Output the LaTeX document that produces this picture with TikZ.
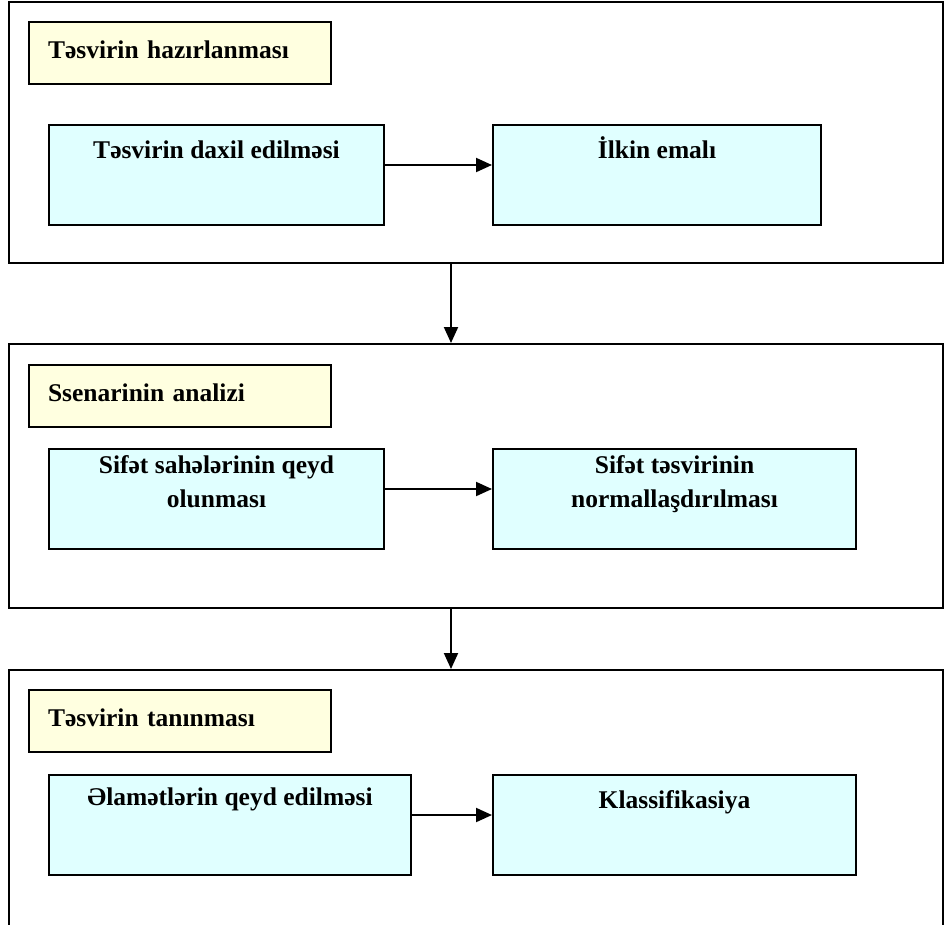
\documentclass[tikz,border=0pt]{standalone}
\usepackage{fontspec}
\setmainfont{Liberation Serif}
\usetikzlibrary{positioning,arrows.meta}
\definecolor{headyellow}{HTML}{FFFFE0}
\definecolor{stagecyan}{HTML}{E0FFFF}

\begin{document}
\begin{tikzpicture}[x=1pt, y=-1pt, line width=2pt, font=\fontsize{25.5}{34}\selectfont\bfseries,
  frame/.style = {draw, rectangle, minimum width=934pt, inner sep=0pt},
  head/.style = {draw, fill=headyellow, minimum width=302pt, minimum height=62pt, text width=264pt, inner xsep=19pt, align=left, text height=17pt, text depth=6pt},
  stage/.style = {draw, fill=stagecyan, minimum height=100pt, inner sep=0pt},
  stagetext/.style = {inner sep=0pt, align=center},
  arr/.style = {-{Triangle[length=16pt, width=14pt]}}]
\useasboundingbox (0,0) rectangle (944,924);
\clip (0,0) rectangle (944,924);
% three frames
\node[frame, minimum height=261pt, anchor=north west] (prep) at (8,1) {};
\node[frame, minimum height=264pt] (scene) [below=79pt of prep] {};
\node[frame, minimum height=300pt] (recog) [below=60pt of scene] {};
% frame titles
\node[head] (prep-h) [below right=20pt and 20pt of prep.north west] {Təsvirin hazırlanması};
\node[head] (scene-h) [below right=21pt and 20pt of scene.north west] {Ssenarinin analizi};
\node[head] (recog-h) [below right=20pt and 20pt of recog.north west] {Təsvirin tanınması};
% steps
\node[stage, minimum width=335pt] (input) [below right=39pt and 20pt of prep-h.south west] {};
\node[stage, minimum width=328pt] (pre) [right=107pt of input] {};
\node[stage, minimum width=335pt] (face) [below right=20pt and 20pt of scene-h.south west] {};
\node[stage, minimum width=363pt] (norm) [right=107pt of face] {};
\node[stage, minimum width=362pt] (feat) [below right=21pt and 20pt of recog-h.south west] {};
\node[stage, minimum width=363pt] (class) [right=80pt of feat] {};
% step texts
\node[stagetext, below=16pt of input.north] (input-t) {Təsvirin daxil edilməsi};
\node[stagetext, below=12pt of pre.north] (pre-t) {İlkin emalı};
\node[stagetext, below=7pt of face.north] (face-t) {Sifət sahələrinin qeyd\\olunması};
\node[stagetext, below=7pt of norm.north] (norm-t) {Sifət təsvirinin\\normallaşdırılması};
\node[stagetext, below=13pt of feat.north] (feat-t) {Əlamətlərin qeyd edilməsi};
\node[stagetext, below=16pt of class.north] (class-t) {Klassifikasiya};
% arrows
\draw[arr] ([yshift=10pt]input.east) -- ([yshift=10pt]pre.west);
\draw[arr] ([yshift=10pt]face.east) -- ([yshift=10pt]norm.west);
\draw[arr] ([yshift=10pt]feat.east) -- ([yshift=10pt]class.west);
\draw[arr] ([xshift=-25pt]prep.south) -- ([xshift=-25pt]scene.north);
\draw[arr] ([xshift=-25pt]scene.south) -- ([xshift=-25pt]recog.north);
\end{tikzpicture}
\end{document}
